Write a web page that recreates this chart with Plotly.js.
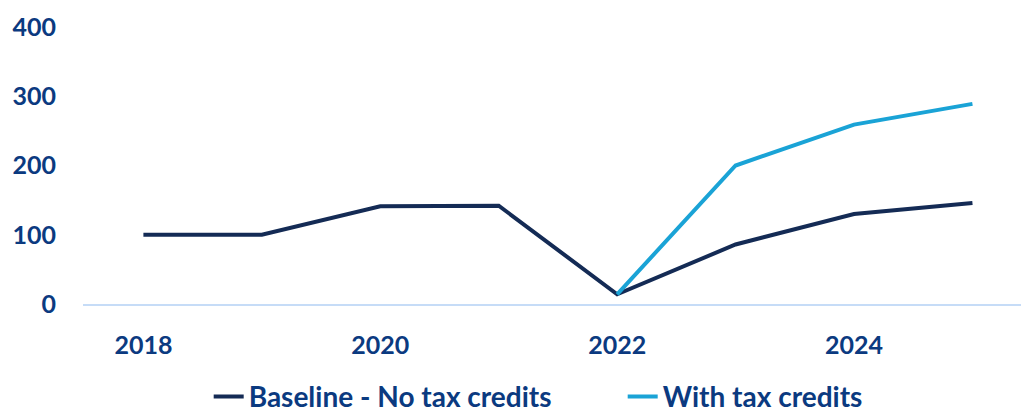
<!DOCTYPE html>
<html><head><meta charset="utf-8">
<script src="https://cdn.plot.ly/plotly-3.0.1.min.js"></script>
<style>body{margin:0;background:#fff}#c{width:1021px;height:412px}</style>
</head><body><div id="c"></div>
<script>
const years = [2018, 2019, 2020, 2021, 2022, 2023, 2024, 2025];
const baseline = [100, 100, 141, 142, 14, 86, 130, 146];
const creditYears = [2022, 2023, 2024, 2025];
const withCredits = [14, 200, 259, 289];
const seriesNames = ["Baseline - No tax credits", "With tax credits"];
const xTicks = [2018, 2020, 2022, 2024];
const yTicks = [0, 100, 200, 300, 400];

const font = {family: "Lato, 'Open Sans', sans-serif", size: 25, color: "#0b3a80", weight: 700};
const legendFont = {family: "Lato, 'Open Sans', sans-serif", size: 28, color: "#0b3a80", weight: 700};
const traces = [
  {x: years, y: baseline, name: seriesNames[0], type: "scatter", mode: "lines",
   line: {color: "#142b55", width: 4}},
  {x: creditYears, y: withCredits, name: seriesNames[1], type: "scatter", mode: "lines",
   line: {color: "#1aa3d6", width: 4}}
];
const layout = {
  width: 1021, height: 412,
  margin: {l: 83, r: 0, t: 27, b: 108, autoexpand: false},
  paper_bgcolor: "#fff", plot_bgcolor: "#fff",
  font: font,
  showlegend: true,
  legend: {orientation: "h", x: 0.134, xanchor: "left", y: -0.335, yanchor: "middle",
           font: legendFont, entrywidth: 369},
  xaxis: {range: [2017.49, 2025.41], tickvals: xTicks, ticktext: xTicks.map(String),
          showgrid: false, zeroline: false, showline: true, linecolor: "#c6dcf7", linewidth: 2,
          ticks: "", ticklabelstandoff: 18, tickfont: font},
  yaxis: {range: [0, 400], tickvals: yTicks, showgrid: false, zeroline: false, showline: false,
          ticks: "", ticklabelstandoff: 26, tickfont: font}
};
Plotly.newPlot("c", traces, layout, {staticPlot: true});
</script></body></html>
